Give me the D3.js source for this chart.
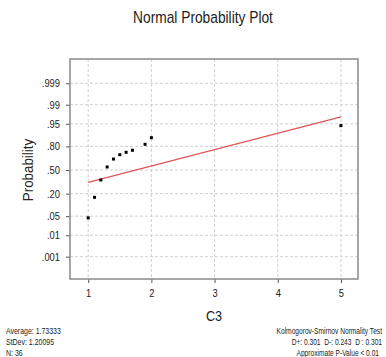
<!DOCTYPE html>
<html><head><meta charset="utf-8">
<script src="https://cdn.jsdelivr.net/npm/d3@7/dist/d3.min.js"></script>
<style>
html,body{margin:0;padding:0;background:#fff;}
svg text{font-family:"Liberation Sans",Arial,sans-serif;fill:#222;white-space:pre;}
</style></head>
<body>
<svg id="c" width="386" height="357"></svg>
<script>
// ---- data ----
const title = "Normal Probability Plot";
const xLabel = "C3";
const yLabel = "Probability";
const xTicks = [1, 2, 3, 4, 5];
const probTicks = [0.001, 0.01, 0.05, 0.20, 0.50, 0.80, 0.95, 0.99, 0.999];
const probTickLabels = [".001", ".01", ".05", ".20", ".50", ".80", ".95", ".99", ".999"];
const pointX = [1.0, 1.1, 1.2, 1.3, 1.4, 1.5, 1.6, 1.7, 1.9, 2.0, 5.0];
const pointP = [0.044, 0.165, 0.361, 0.543, 0.652, 0.707, 0.736, 0.759, 0.820, 0.875, 0.943];
const fitX = [1, 5];
const fitP = [0.33, 0.971];
const statsLeft = ["Average: 1.73333", "StDev: 1.20095", "N: 36"];
const statsRight = ["Kolmogorov-Smirnov Normality Test", "D+: 0.301  D-: 0.243  D : 0.301", "Approximate P-Value < 0.01"];

// inverse normal CDF (Acklam) used for the probability-scale transform
function probit(p){
  const a=[-39.69683028665376,220.9460984245205,-275.9285104469687,138.3577518672690,-30.66479806614716,2.506628277459239];
  const b=[-54.47609879822406,161.5858368580409,-155.6989798598866,66.80131188771972,-13.28068155288572];
  const c=[-0.007784894002430293,-0.3223964580411365,-2.400758277161838,-2.549732539343734,4.374664141464968,2.938163982698783];
  const d=[0.007784695709041462,0.3224671290700398,2.445134137142996,3.754408661907416];
  const pl=0.02425;
  let q,r;
  if(p<pl){q=Math.sqrt(-2*Math.log(p));return (((((c[0]*q+c[1])*q+c[2])*q+c[3])*q+c[4])*q+c[5])/((((d[0]*q+d[1])*q+d[2])*q+d[3])*q+1);}
  if(p>1-pl){q=Math.sqrt(-2*Math.log(1-p));return -(((((c[0]*q+c[1])*q+c[2])*q+c[3])*q+c[4])*q+c[5])/((((d[0]*q+d[1])*q+d[2])*q+d[3])*q+1);}
  q=p-0.5;r=q*q;
  return (((((a[0]*r+a[1])*r+a[2])*r+a[3])*r+a[4])*r+a[5])*q/(((((b[0]*r+b[1])*r+b[2])*r+b[3])*r+b[4])*r+1);
}
// horizontally condense axis text (narrow-font look)
function condense(sel, k){
  sel.each(function(){
    const w = this.getComputedTextLength();
    d3.select(this).attr("textLength", w*k).attr("lengthAdjust", "spacingAndGlyphs");
  });
}
// condensed free text placed with a transform
function label(str, px, py, size, k, anchor, rot, fill){
  const gg = svg.append("g").attr("transform", `translate(${px},${py}) rotate(${rot||0}) scale(${k},1)`);
  gg.append("text").attr("x", 0).attr("y", 0).attr("text-anchor", anchor)
    .style("font-size", size + "px").attr("fill", fill || "#222").text(str);
  return gg;
}

const svg = d3.select("#c");
const L = 70, R = 358, T = 59, B = 279;
const x = d3.scaleLinear().domain([0.712, 5.27]).range([L, R]);
const yz = d3.scaleLinear().domain([-3.885, 3.956]).range([B, T]);
const y = p => yz(probit(p));

// grid
const g = svg.append("g");
g.selectAll("line.gy").data(probTicks).join("line")
  .attr("x1", L).attr("x2", R).attr("y1", d=>y(d)).attr("y2", d=>y(d))
  .attr("stroke", "#d0d0d0").attr("stroke-width", 1).attr("stroke-dasharray", "3,2");
g.selectAll("line.gx").data(xTicks).join("line")
  .attr("y1", T).attr("y2", B).attr("x1", d=>x(d)).attr("x2", d=>x(d))
  .attr("stroke", "#d0d0d0").attr("stroke-width", 1).attr("stroke-dasharray", "3,2");

// axes
const xAxis = d3.axisBottom(x).tickValues(xTicks).tickSize(4).tickPadding(6).tickFormat(d3.format("d"));
const xa = svg.append("g").attr("transform", `translate(0,${B})`).call(xAxis);
xa.select(".domain").remove();
xa.selectAll("line").attr("stroke", "#555");
xa.selectAll("text").style("font-size", "11px").attr("fill", "#222");
condense(xa.selectAll("text"), 0.85);

const yAxis = d3.axisLeft(yz).tickValues(probTicks.map(probit)).tickSize(4).tickPadding(6)
  .tickFormat((d,i)=>probTickLabels[i]);
const ya = svg.append("g").attr("transform", `translate(${L},0)`).call(yAxis);
ya.select(".domain").remove();
ya.selectAll("line").attr("stroke", "#555");
ya.selectAll("text").style("font-size", "11px").attr("fill", "#222");
condense(ya.selectAll("text"), 0.85);

// frame
svg.append("rect").attr("x", L).attr("y", T).attr("width", R-L).attr("height", B-T)
  .attr("fill", "none").attr("stroke", "#8a8a8a").attr("stroke-width", 1.5);

// fit line
svg.append("line")
  .attr("x1", x(fitX[0])).attr("y1", y(fitP[0]))
  .attr("x2", x(fitX[1])).attr("y2", y(fitP[1]))
  .attr("stroke", "#e05555").attr("stroke-width", 1.2);

// points
svg.selectAll("rect.pt").data(pointX.map((v,i)=>[v, pointP[i]])).join("rect")
  .attr("x", d=>x(d[0])-1.5).attr("y", d=>y(d[1])-1.5)
  .attr("width", 3).attr("height", 3).attr("fill", "#000");

// titles
label(title, 203, 23, 16, 0.86, "middle");
label(xLabel, 214, 321, 14, 0.9, "middle");
label(yLabel, 33, 170, 15, 0.89, "middle", -90);

// stats
statsLeft.forEach((s,i)=>label(s, 6, 334 + i*10.8, 8.5, 0.82, "start", 0, "#333"));
statsRight.forEach((s,i)=>label(s, [382,382,379][i], 334 + i*10.8, 8.5, 0.78, "end", 0, "#333"));
</script>
</body></html>
